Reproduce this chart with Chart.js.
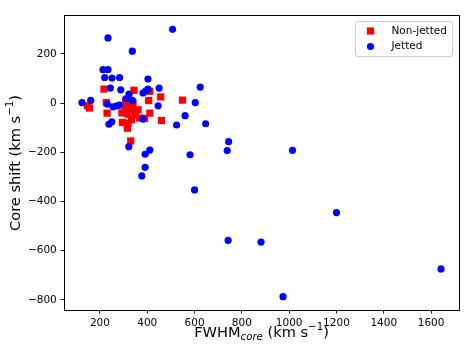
<!DOCTYPE html>
<html>
<head>
<meta charset="utf-8">
<script src="https://cdn.jsdelivr.net/npm/chart.js@4/dist/chart.umd.min.js"></script>
<style>
html,body{margin:0;padding:0;background:#fff;}
canvas{display:block;}
</style>
</head>
<body>
<canvas id="c" width="473" height="355"></canvas>
<script>
// ---- data ----
const seriesNames = ['Non-jetted', 'Jetted'];
const nonJettedX = [147, 156, 217, 227, 230, 293, 295, 308, 305, 326, 340, 350, 333, 368, 361, 319, 316, 330, 344, 406, 411, 411, 457, 460, 549, 389, 319, 312, 333];
const nonJettedY = [-11, -20, 57, 2, -41, -40, -79, 11, -34, -20, 0, -48, -68, -61, -27, -45, -102, -154, 52, 10, 48, -41, 25, -71, 12, -62, -82, -7, -27];
const jettedX = [124, 161, 213, 234, 234, 220, 251, 283, 244, 288, 231, 255, 272, 283, 238, 250, 323, 312, 337, 337, 382, 394, 403, 403, 450, 446, 382, 322, 391, 411, 391, 377, 507, 524, 560, 603, 624, 647, 581, 600, 738, 744, 742, 881, 974, 1014, 1200, 1642];
const jettedY = [2, 11, 136, 136, 265, 104, 102, 104, 61, 54, -4, -15, -11, -8, -86, -76, 37, 18, 11, 211, 41, 50, 57, 98, 61, -11, -65, -177, -208, -191, -261, -296, 300, -89, -51, 2, 65, -84, -210, -353, -193, -157, -558, -565, -787, -192, -445, -674];
const xTicks = [200, 400, 600, 800, 1000, 1200, 1400, 1600];
const yTicks = [-800, -600, -400, -200, 0, 200];
const xLimits = [48, 1718];
const yLimits = [-841, 354];

const FONT = "'DejaVu Sans'";
const fmt = v => (v < 0 ? '\u2212' + Math.abs(v) : String(v));

function drawRich(ctx, parts, cx, cy, rot) {
  ctx.save();
  ctx.translate(cx, cy);
  ctx.rotate(rot);
  let total = 0;
  parts.forEach(p => { ctx.font = p.font; p.w = ctx.measureText(p.t).width; total += p.w; });
  let x = -total / 2;
  ctx.textBaseline = 'alphabetic';
  ctx.textAlign = 'left';
  ctx.fillStyle = '#000';
  parts.forEach(p => { ctx.font = p.font; ctx.fillText(p.t, x, p.dy); x += p.w; });
  ctx.restore();
}

const LS = 14.6;
const SS = LS * 0.7;
const xLabelParts = [
  {t: 'FWHM', font: `${LS}px ${FONT}`, dy: 0},
  {t: 'core', font: `oblique ${SS}px ${FONT}`, dy: 0.22 * LS},
  {t: ' (km s', font: `${LS}px ${FONT}`, dy: 0},
  {t: '\u22121', font: `${SS}px ${FONT}`, dy: -0.42 * LS},
  {t: ')', font: `${LS}px ${FONT}`, dy: 0}
];
const yLabelParts = [
  {t: 'Core shift (km s', font: `${LS}px ${FONT}`, dy: 0},
  {t: '\u22121', font: `${SS}px ${FONT}`, dy: -0.42 * LS},
  {t: ')', font: `${LS}px ${FONT}`, dy: 0}
];

const framePlugin = {
  id: 'frame',
  afterDatasetsDraw(chart) {
    const {ctx, chartArea: a} = chart;
    ctx.save();
    ctx.strokeStyle = '#000';
    ctx.lineWidth = 1;
    ctx.strokeRect(a.left + 0.5, a.top - 0.5, a.right - a.left, a.bottom - a.top + 1);
    ctx.restore();
  },
  afterDraw(chart) {
    const {ctx, chartArea: a} = chart;
    drawRich(ctx, xLabelParts, (a.left + a.right) / 2, 336.6, 0);
    drawRich(ctx, yLabelParts, 19.5, (a.top + a.bottom) / 2, -Math.PI / 2);
    // legend
    const lx = 355.5, ly = 21.5, lw = 97, lh = 35, r = 2.5;
    ctx.save();
    ctx.beginPath();
    ctx.moveTo(lx + r, ly);
    ctx.arcTo(lx + lw, ly, lx + lw, ly + lh, r);
    ctx.arcTo(lx + lw, ly + lh, lx, ly + lh, r);
    ctx.arcTo(lx, ly + lh, lx, ly, r);
    ctx.arcTo(lx, ly, lx + lw, ly, r);
    ctx.closePath();
    ctx.fillStyle = 'rgba(255,255,255,0.8)';
    ctx.fill();
    ctx.strokeStyle = '#cccccc';
    ctx.lineWidth = 1;
    ctx.stroke();
    const ds = chart.data.datasets;
    const entries = [ds[1], ds[0]];
    const rows = [31, 46.5];
    entries.forEach((d, i) => {
      const cy = rows[i];
      ctx.fillStyle = d.backgroundColor;
      if (d.pointStyle === 'rect') {
        ctx.fillRect(370.5 - 3.6, cy - 3.6, 7.2, 7.2);
      } else {
        ctx.beginPath();
        ctx.arc(370.5, cy, 3.6, 0, Math.PI * 2);
        ctx.fill();
      }
      ctx.fillStyle = '#000';
      ctx.font = `10.5px ${FONT}`;
      ctx.textBaseline = 'middle';
      ctx.textAlign = 'left';
      ctx.fillText(d.label, 391.5, cy);
    });
    ctx.restore();
  }
};

const axisCommon = {
  type: 'linear',
  grid: {display: true, drawOnChartArea: false, drawTicks: true, tickLength: 3.6, tickColor: '#000', tickWidth: 0.9},
  border: {display: false},
  ticks: {padding: 3.6, color: '#000', font: {family: FONT, size: 10.5}, maxRotation: 0, autoSkip: false, callback: v => fmt(v)}
};

new Chart(document.getElementById('c'), {
  type: 'scatter',
  data: {
    datasets: [
      {
        label: seriesNames[1],
        data: jettedX.map((x, i) => ({x: x, y: jettedY[i]})),
        pointStyle: 'circle', pointRadius: 3.6, backgroundColor: '#0000ff', borderWidth: 0, order: 0
      },
      {
        label: seriesNames[0],
        data: nonJettedX.map((x, i) => ({x: x, y: nonJettedY[i]})),
        pointStyle: 'rect', pointRadius: 5.1, backgroundColor: '#ff0000', borderWidth: 0, order: 1
      }
    ]
  },
  options: {
    responsive: false,
    animation: false,
    devicePixelRatio: 1,
    events: [],
    layout: {padding: {left: 0, right: 14, top: 16, bottom: 0}},
    plugins: {legend: {display: false}, tooltip: {enabled: false}},
    scales: {
      x: Object.assign({}, axisCommon, {
        min: xLimits[0], max: xLimits[1],
        afterBuildTicks: s => { s.ticks = xTicks.map(v => ({value: v})); },
        afterFit: s => { s.height = 45; }
      }),
      y: Object.assign({}, axisCommon, {
        min: yLimits[0], max: yLimits[1],
        afterBuildTicks: s => { s.ticks = yTicks.map(v => ({value: v})); },
        afterFit: s => { s.width = 64; }
      })
    }
  },
  plugins: [framePlugin]
});
</script>
</body>
</html>
